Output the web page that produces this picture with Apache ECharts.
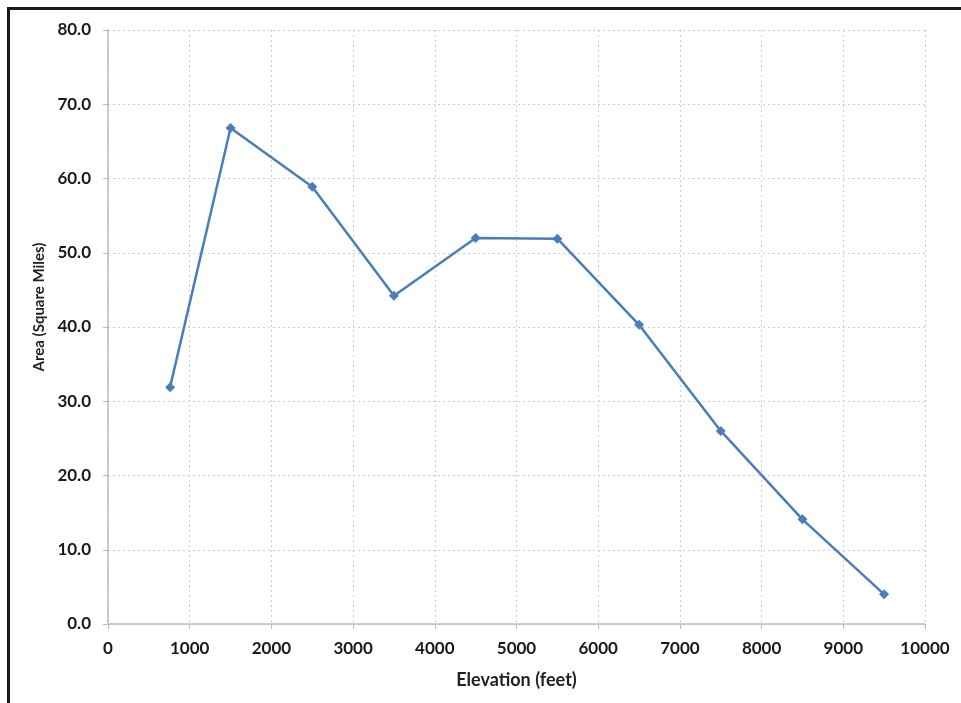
<!DOCTYPE html>
<html>
<head>
<meta charset="utf-8">
<script src="https://cdn.jsdelivr.net/npm/echarts@6/dist/echarts.min.js"></script>
<style>
html,body{margin:0;padding:0;background:#fff;}
#frame{position:absolute;left:7px;top:7px;width:1000px;height:800px;border-left:3px solid #1a1a1a;border-top:3px solid #1a1a1a;}
#chart{position:absolute;left:0;top:0;width:961px;height:703px;}
</style>
</head>
<body>
<div id="frame"></div>
<div id="chart"></div>
<script>
const elevation = [760, 1500, 2500, 3500, 4500, 5500, 6500, 7500, 8500, 9500];
const area = [31.9, 66.8, 58.9, 44.2, 52.0, 51.9, 40.3, 26.0, 14.1, 4.0];
const xName = 'Elevation (feet)';
const yName = 'Area (Square Miles)';

const chart = echarts.init(document.getElementById('chart'), null, {renderer: 'canvas'});
const font = 'Lato, "Open Sans", sans-serif';
chart.setOption({
  animation: false,
  backgroundColor: 'transparent',
  grid: {left: 108, right: 36, top: 30, bottom: 79, containLabel: false},
  xAxis: {
    type: 'value', min: 0, max: 10000, interval: 1000,
    name: xName, nameLocation: 'middle', nameGap: 47,
    nameTextStyle: {fontFamily: font, fontWeight: 'bold', fontSize: 18, color: '#222'},
    axisLine: {show: true, lineStyle: {color: '#bcbcbc', width: 1.5}},
    axisTick: {show: true, length: 5, lineStyle: {color: '#bcbcbc'}},
    axisLabel: {fontFamily: font, fontWeight: 'bold', fontSize: 17, color: '#1a1a1a', margin: 16,
      formatter: v => String(v)},
    splitLine: {show: true, lineStyle: {color: '#cccccc', type: [2, 3], width: 1}}
  },
  yAxis: {
    type: 'value', min: 0, max: 80, interval: 10,
    name: yName, nameLocation: 'middle', nameGap: 60, nameRotate: 90,
    nameTextStyle: {fontFamily: font, fontWeight: 'bold', fontSize: 15, color: '#222', padding: [0, 0, 0, 40]},
    axisLine: {show: true, lineStyle: {color: '#bcbcbc', width: 1.5}},
    axisTick: {show: true, length: 5, lineStyle: {color: '#bcbcbc'}},
    axisLabel: {fontFamily: font, fontWeight: 'bold', fontSize: 17, color: '#1a1a1a', margin: 17,
      formatter: v => v.toFixed(1)},
    splitLine: {show: true, lineStyle: {color: '#cccccc', type: [2, 3], width: 1}}
  },
  series: [{
    type: 'line',
    data: elevation.map((x, i) => [x, area[i]]),
    symbol: 'diamond', symbolSize: 10, showAllSymbol: true,
    lineStyle: {color: '#4a7ebb', width: 2.5},
    itemStyle: {color: '#4a7ebb'}
  }]
});
</script>
</body>
</html>
